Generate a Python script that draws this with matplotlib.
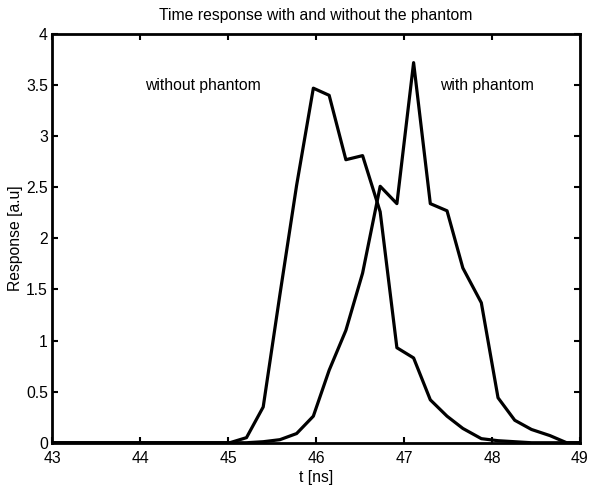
import numpy as np
import matplotlib
matplotlib.use("Agg")
import matplotlib.pyplot as plt

plt.rcParams['font.family'] = ['Liberation Sans', 'DejaVu Sans']

# sample times (ns)
t = [43.0, 43.5, 44.0, 44.5, 45.02, 45.21, 45.40, 45.59, 45.78, 45.97, 46.15,
     46.34, 46.53, 46.73, 46.92, 47.11, 47.30, 47.49, 47.67, 47.88, 48.07,
     48.26, 48.45, 48.66, 48.85, 49.0]

without_phantom = [0, 0, 0, 0, 0.0, 0.05, 0.35, 1.45, 2.52, 3.47, 3.40,
                   2.77, 2.81, 2.26, 0.93, 0.83, 0.42, 0.26, 0.14, 0.04, 0.02,
                   0.01, 0.0, 0.0, 0.0, 0.0]

with_phantom = [0, 0, 0, 0, 0.0, 0.0, 0.01, 0.03, 0.09, 0.26, 0.71,
                1.10, 1.66, 2.51, 2.34, 3.72, 2.34, 2.27, 1.71, 1.37, 0.44,
                0.22, 0.13, 0.07, 0.0, 0.0]

fs = 11.3

fig = plt.figure(figsize=(5.99, 4.86), dpi=100)
ax = fig.add_axes([0.087, 0.089, 0.881, 0.841])

ax.plot(t, without_phantom, color='black', lw=2.3)
ax.plot(t, with_phantom, color='black', lw=2.3)

ax.set_xlim(43, 49)
ax.set_ylim(0, 4)
ax.set_xticks(np.arange(43, 49.1, 1))
ax.set_yticks(np.arange(0, 4.01, 0.5))
ax.set_yticklabels(['0', '0.5', '1', '1.5', '2', '2.5', '3', '3.5', '4'])
ax.tick_params(direction='in', top=True, right=True, length=4, width=1.5,
               labelsize=fs)
ax.tick_params(axis='x', pad=6)
ax.tick_params(axis='y', pad=3)
for s in ax.spines.values():
    s.set_linewidth(2)

ax.set_xlabel('t [ns]', fontsize=fs, labelpad=3)
ax.set_ylabel('Response [a.u]', fontsize=fs)
ax.yaxis.set_label_coords(-0.056, 0.5)
ax.set_title('Time response with and without the phantom', fontsize=fs, pad=10)

ax.text(44.06, 3.5, 'without phantom', fontsize=fs, va='center')
ax.text(47.41, 3.5, 'with phantom', fontsize=fs, va='center')

fig.savefig('out.png', dpi=100)
